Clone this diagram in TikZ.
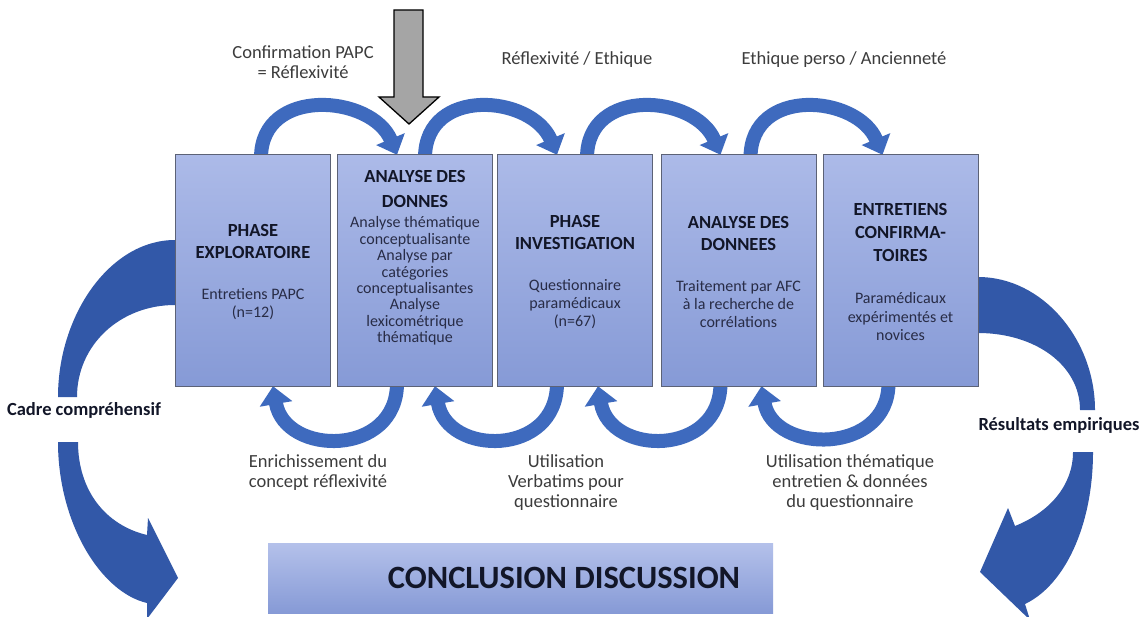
\documentclass[tikz,border=0pt]{standalone}
\usepackage{fontspec}
\setmainfont{Carlito}
\usetikzlibrary{arrows.meta,calc}
\definecolor{arcblue}{RGB}{62,106,190}
\definecolor{sideblue}{RGB}{50,88,168}
\definecolor{boxtop}{RGB}{172,186,232}
\definecolor{boxbot}{RGB}{134,154,214}
\definecolor{boxedge}{RGB}{92,98,118}
\definecolor{titlecol}{RGB}{18,22,40}
\definecolor{bodycol}{RGB}{40,44,70}
\definecolor{labcol}{RGB}{60,60,60}
\definecolor{graycol}{RGB}{165,165,165}
\newcommand{\boxtitle}[1]{{\fontsize{18.5}{22}\selectfont\bfseries\color{titlecol}#1}}
\begin{document}
\begin{tikzpicture}[x=1pt,y=-1pt,
  box/.style={draw=boxedge,line width=1pt,top color=boxtop,bottom color=boxbot,minimum width=155pt,minimum height=231pt,inner sep=0pt},
  concl/.style={draw=none,top color=boxtop!90!white,bottom color=boxbot,minimum width=505pt,minimum height=70pt,inner sep=0pt},
  boxtext/.style={align=center,text=bodycol,inner sep=0pt,font=\fontsize{16}{18}\selectfont},
  lab/.style={align=center,text=labcol,inner sep=0pt,font=\fontsize{18.5}{20}\selectfont},
  sidelab/.style={text=titlecol,inner sep=0pt,font=\fontsize{18.5}{20}\selectfont\bfseries},
  toparc/.style={draw=arcblue,line width=14pt,-{Triangle[width=30pt,length=17pt]}},
  botarc/.style={draw=arcblue,line width=14pt,-{Triangle[width=32pt,length=18pt]}},
  sidearrow/.style={fill=sideblue,draw=none},
  grayarrow/.style={fill=graycol,draw=black,line width=1.3pt,line join=miter},
]
\useasboundingbox (0,0) rectangle (1142,617);
\fill[white] (0,0) rectangle (1142,617);

% side crescent arrows
\path[sidearrow] (192,240) -- (175,240) .. controls (110,240) and (58,315) .. (58,397)
  -- (77,397) .. controls (77,345) and (120,305) .. (175,305) -- (192,305) -- cycle;
\path[sidearrow] (58,442) .. controls (58,522) and (100,592) .. (147,603)
  -- (147,619) -- (178,578) -- (148,518) -- (147,535)
  .. controls (105,525) and (78,490) .. (78,442) -- cycle;
\path[sidearrow] (962,277) -- (978,277) .. controls (1043,277) and (1095,340) .. (1095,410)
  -- (1080,410) .. controls (1080,365) and (1035,333) .. (978,333) -- (962,333) -- cycle;
\path[sidearrow] (1093,452) .. controls (1093,525) and (1065,585) .. (1025,604)
  -- (1030,620) -- (980,572) -- (1008,508) -- (1015,526)
  .. controls (1050,512) and (1073,485) .. (1073,452) -- cycle;

% boxes (positions)
\coordinate (p1) at (253,270.5);
\coordinate (p2) at (415,270.5);
\coordinate (p3) at (575,270.5);
\coordinate (p4) at (738.5,270.5);
\coordinate (p5) at (900.5,270.5);
\path (p1) node[minimum width=155pt,minimum height=231pt] (b1) {}
      (p2) node[minimum width=155pt,minimum height=231pt] (b2) {}
      (p3) node[minimum width=155pt,minimum height=231pt] (b3) {}
      (p4) node[minimum width=155pt,minimum height=231pt] (b4) {}
      (p5) node[minimum width=155pt,minimum height=231pt] (b5) {};

% top arcs
\draw[toparc] ($(b1.north)+(8,3)$) .. controls +(0,-72) and +(-25,-60) .. ($(b2.north)+(-18,0)$);
\draw[toparc] ($(b2.north)+(10,3)$) .. controls +(0,-72) and +(-25,-60) .. ($(b3.north)+(-18,0)$);
\draw[toparc] ($(b3.north)+(12,3)$) .. controls +(0,-72) and +(-25,-60) .. ($(b4.north)+(-18,0)$);
\draw[toparc] ($(b4.north)+(12,3)$) .. controls +(0,-72) and +(-25,-60) .. ($(b5.north)+(-18,0)$);

% bottom arcs
\draw[botarc] ($(b2.south)+(-18,-3)$) .. controls +(0,74) and +(12,70) .. ($(b1.south)+(20,0)$);
\draw[botarc] ($(b3.south)+(-18,-3)$) .. controls +(0,74) and +(12,70) .. ($(b2.south)+(20,0)$);
\draw[botarc] ($(b4.south)+(-18,-3)$) .. controls +(0,74) and +(12,70) .. ($(b3.south)+(23,0)$);
\draw[botarc] ($(b5.south)+(-12,-3)$) .. controls +(0,72) and +(12,68) .. ($(b4.south)+(23,0)$);

% boxes drawn
\node[box] (B1) at (p1) {};
\node[box] (B2) at (p2) {};
\node[box] (B3) at (p3) {};
\node[box] (B4) at (p4) {};
\node[box] (B5) at (p5) {};

\node[boxtext] (t1) at ($(B1.center)+(0,2)$) {\boxtitle{PHASE}\\[4pt]\boxtitle{EXPLORATOIRE}\\[23pt]Entretiens PAPC\\(n=12)};
\node[boxtext,font=\fontsize{16}{16.4}\selectfont] (t2) at ($(B2.center)+(0,-12.5)$) {\boxtitle{ANALYSE DES}\\[8.6pt]\boxtitle{DONNES}\\[3.6pt]Analyse thématique\\conceptualisante\\Analyse par\\catégories\\conceptualisantes\\Analyse\\lexicométrique\\thématique};
\node[boxtext] (t3) at ($(B3.center)+(0,1.5)$) {\boxtitle{PHASE}\\[4pt]\boxtitle{INVESTIGATION}\\[23pt]Questionnaire\\paramédicaux\\(n=67)};
\node[boxtext] (t4) at ($(B4.center)+(0,1.5)$) {\boxtitle{ANALYSE DES}\\[4pt]\boxtitle{DONNEES}\\[23pt]Traitement par AFC\\à la recherche de\\corrélations};
\node[boxtext] (t5) at ($(B5.center)+(0,1)$) {\boxtitle{ENTRETIENS}\\[5pt]\boxtitle{CONFIRMA-}\\[5pt]\boxtitle{TOIRES}\\[24pt]Paramédicaux\\[1pt]expérimentés et\\novices};

% conclusion
\node[concl] (C) at (520.5,578) {};
\node[text=titlecol,inner sep=0pt,font=\fontsize{32.5}{35}\selectfont\bfseries] (ct) at (564,578) {CONCLUSION DISCUSSION};

% gray arrow
\draw[grayarrow] (394,10) -- (423,10) -- (423,97) -- (439,97) -- (409,124) -- (379,97) -- (394,97) -- cycle;

% labels
\node[lab] (l1) at (303,62) {Confirmation PAPC\\= Réflexivité};
\node[lab] (l2) at (577,60) {Réflexivité / Ethique};
\node[lab] (l3) at (844,60) {Ethique perso / Ancienneté};
\node[lab] (l4) at (318,473) {Enrichissement du\\concept réflexivité};
\node[lab] (l5) at (566,483) {Utilisation\\Verbatims pour\\questionnaire};
\node[lab] (l6) at (850,483) {Utilisation thématique\\entretien \& données\\du questionnaire};
\node[sidelab] (s1) at (84,410) {Cadre compréhensif};
\node[sidelab] (s2) at (1059,425) {Résultats empiriques};
\end{tikzpicture}
\end{document}
